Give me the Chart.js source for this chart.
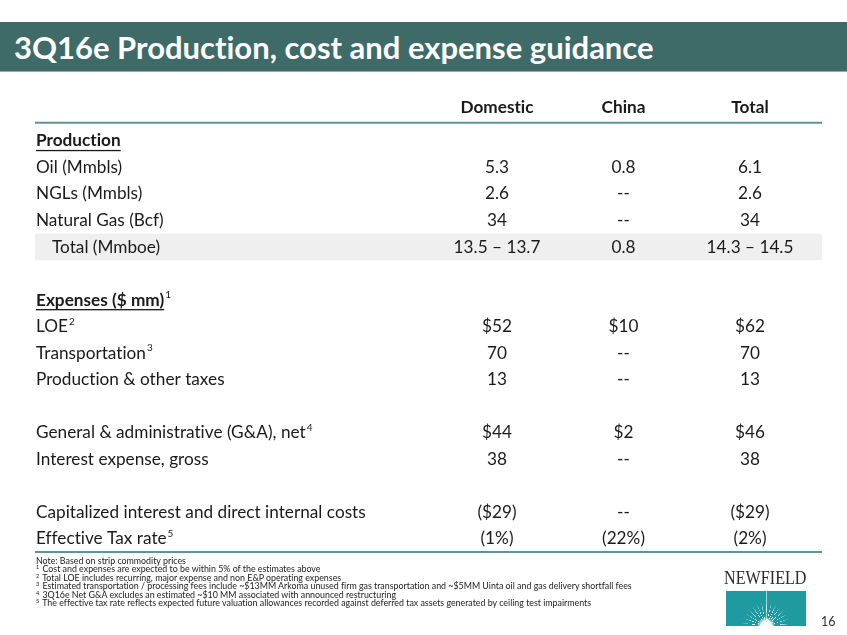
<!DOCTYPE html>
<html>
<head>
<meta charset="utf-8">
<script src="https://cdn.jsdelivr.net/npm/chart.js@4.4.0/dist/chart.umd.min.js"></script>
<style>
  html, body { margin: 0; padding: 0; background: #fff; }
  body { width: 847px; height: 635px; position: relative; overflow: hidden; font-family: Lato, "Open Sans", sans-serif;
    font-variant-ligatures: none; }
  #table-chart { position: absolute; left: 0; top: 0; }
  .titlebar { position: absolute; left: 0; top: 22px; width: 847px; height: 50px; background: #3e6b68;
    border-bottom: 1px solid #8fb0ad; color: #fff; font-weight: bold; font-size: 31px; line-height: 50px;
    padding-left: 14px; box-sizing: border-box; }
  .notes { position: absolute; left: 36px; top: 557px; font-size: 8.85px; line-height: 8.45px; color: #222; }
  .notes sup { font-size: 5.5px; vertical-align: 3px; line-height: 0; margin-right: 1px; }
  .logo-word { position: absolute; left: 724px; top: 567px; font-family: "Liberation Serif", serif; font-size: 19px; line-height: 22px;
    color: #2b2b2b; transform: scaleX(0.85); transform-origin: 0 0; white-space: nowrap; }
  .logo-box { position: absolute; left: 726px; top: 591px; width: 80px; height: 35px; background: #1f9aa0; overflow: hidden; }
  .logo-box::before { content: ""; position: absolute; left: 40px; top: 0; width: 1px; height: 35px; background: rgba(255,255,255,0.6); }
  .logo-box::after { content: ""; position: absolute; left: 0; top: 0; width: 80px; height: 35px;
    background: radial-gradient(circle at 50% 100%, #fff 0, #fff 5px, transparent 9px),
                repeating-conic-gradient(from 0deg at 50% 100%, rgba(255,255,255,0.95) 0deg 2deg, transparent 2deg 12deg);
    -webkit-mask-image: radial-gradient(circle at 50% 100%, #000 0, #000 12px, transparent 24px);
    mask-image: radial-gradient(circle at 50% 100%, #000 0, #000 12px, transparent 24px); }
  .page { position: absolute; left: 821px; top: 614px; font-size: 12.5px; color: #333; }
</style>
</head>
<body>
<canvas id="table-chart" width="847" height="635"></canvas>
<div class="titlebar">3Q16e Production, cost and expense guidance</div>
<div class="notes">
  <div>Note: Based on strip commodity prices</div>
  <div><sup>1</sup> Cost and expenses are expected to be within 5% of the estimates above</div>
  <div><sup>2</sup> Total LOE includes recurring, major expense and non E&amp;P operating expenses</div>
  <div><sup>3</sup> Estimated transportation / processing fees include ~$13MM Arkoma unused firm gas transportation and ~$5MM Uinta oil and gas delivery shortfall fees</div>
  <div><sup>4</sup> 3Q16e Net G&amp;A excludes an estimated ~$10 MM associated with announced restructuring</div>
  <div><sup>5</sup> The effective tax rate reflects expected future valuation allowances recorded against deferred tax assets generated by ceiling test impairments</div>
</div>
<div class="logo-word">NEWFIELD</div>
<div class="logo-box"></div>
<div class="page">16</div>

<script>
// table data
const columns = ["Domestic", "China", "Total"];
const rowLabels = ["Production", "Oil (Mmbls)", "NGLs (Mmbls)", "Natural Gas (Bcf)", "Total (Mmboe)", "",
  "Expenses ($ mm)", "LOE", "Transportation", "Production & other taxes", "",
  "General & administrative (G&A), net", "Interest expense, gross", "",
  "Capitalized interest and direct internal costs", "Effective Tax rate"];
const rowNotes = ["", "", "", "", "", "", "1", "2", "3", "", "", "4", "", "", "", "5"];
const domestic = [null, "5.3", "2.6", "34", "13.5 – 13.7", null, null, "$52", "70", "13", null, "$44", "38", null, "($29)", "(1%)"];
const china    = [null, "0.8", "--", "--", "0.8", null, null, "$10", "--", "--", null, "$2", "--", null, "--", "(22%)"];
const total    = [null, "6.1", "2.6", "34", "14.3 – 14.5", null, null, "$62", "70", "13", null, "$46", "38", null, "($29)", "(2%)"];

const sectionRows = ["Production", "Expenses ($ mm)"];
const shadedRows = ["Total (Mmboe)"];
const FONT = "Lato";
const SIZE = 17.2;
const TEAL = "#5f9390";
const rowKeys = rowLabels.map((l, i) => "r" + i);

function toPoints(col, values) {
  const pts = [];
  values.forEach((v, i) => { if (v !== null) pts.push({ x: col, y: rowKeys[i], text: v }); });
  return pts;
}

function rule(ctx, area, y) {
  ctx.strokeStyle = TEAL;
  ctx.lineWidth = 2;
  ctx.beginPath();
  ctx.moveTo(area.left, y);
  ctx.lineTo(area.right, y);
  ctx.stroke();
}

const tablePlugin = {
  id: 'tablePlugin',
  beforeDatasetsDraw(chart) {
    const { ctx, chartArea, scales } = chart;
    const y = scales.y;
    const half = (y.getPixelForValue(1) - y.getPixelForValue(0)) / 2;
    ctx.save();
    if ('letterSpacing' in ctx) ctx.letterSpacing = '0.01px';
    // shaded total row
    rowLabels.forEach((lab, i) => {
      if (shadedRows.includes(lab)) {
        const cy = y.getPixelForValue(i);
        ctx.fillStyle = "#efefef";
        ctx.fillRect(chartArea.left, cy - half, chartArea.right - chartArea.left, half * 2);
      }
    });
    // row labels
    ctx.textBaseline = 'middle';
    ctx.fillStyle = "#1a1a1a";
    rowLabels.forEach((lab, i) => {
      if (!lab) return;
      const cy = y.getPixelForValue(i);
      const bold = sectionRows.includes(lab);
      let x = chartArea.left + 1 + (shadedRows.includes(lab) ? 16 : 0);
      ctx.font = (bold ? "bold " : "") + SIZE + "px " + FONT;
      ctx.textAlign = 'left';
      ctx.fillText(lab, x, cy);
      const w = ctx.measureText(lab).width;
      if (bold) {
        ctx.fillRect(x, cy + 9, w, 1.3);
      }
      if (rowNotes[i]) {
        ctx.font = "10px " + FONT;
        ctx.fillText(rowNotes[i], x + w + 1, cy - 5);
      }
    });
    // header rule and bottom rule
    rule(ctx, chartArea, chartArea.top - 5);
    rule(ctx, chartArea, chartArea.bottom);
    ctx.restore();
  },
  afterDatasetsDraw(chart) {
    const { ctx } = chart;
    ctx.save();
    if ('letterSpacing' in ctx) ctx.letterSpacing = '0.01px';
    ctx.font = SIZE + "px " + FONT;
    ctx.fillStyle = "#1a1a1a";
    ctx.textAlign = 'center';
    ctx.textBaseline = 'middle';
    chart.data.datasets.forEach((ds, di) => {
      chart.getDatasetMeta(di).data.forEach((el, j) => {
        ctx.fillText(ds.data[j].text, el.x, el.y);
      });
    });
    ctx.restore();
  }
};

new Chart(document.getElementById("table-chart"), {
    type: 'scatter',
    data: {
      datasets: [
        { label: columns[0], data: toPoints(1, domestic), pointRadius: 0, pointHoverRadius: 0 },
        { label: columns[1], data: toPoints(2, china), pointRadius: 0, pointHoverRadius: 0 },
        { label: columns[2], data: toPoints(3, total), pointRadius: 0, pointHoverRadius: 0 }
      ]
    },
    options: {
      responsive: false,
      animation: false,
      events: [],
      layout: { padding: { top: 87, bottom: 83, left: 35, right: 25 } },
      plugins: { legend: { display: false }, tooltip: { enabled: false } },
      scales: {
        x: {
          type: 'linear',
          position: 'top',
          min: -2.652,
          max: 3.569,
          afterBuildTicks: (scale) => { scale.ticks = columns.map((c, i) => ({ value: i + 1 })); },
          ticks: {
            callback: (v) => columns[v - 1],
            font: { family: FONT, size: SIZE, weight: 'bold' },
            color: "#1a1a1a",
            padding: 10,
            maxRotation: 0,
            autoSkip: false
          },
          grid: { display: false, drawTicks: false },
          border: { display: true, color: 'rgba(0,0,0,0)', width: 2 }
        },
        y: {
          type: 'category',
          labels: rowKeys,
          offset: true,
          display: false
        }
      }
    },
    plugins: [tablePlugin]
});
</script>
</body>
</html>
